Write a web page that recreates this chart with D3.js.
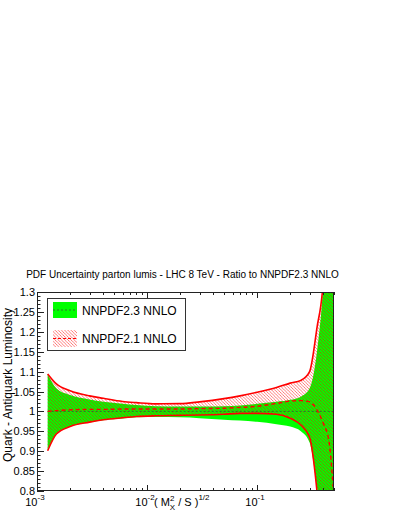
<!DOCTYPE html>
<html>
<head>
<meta charset="utf-8">
<script src="https://cdn.jsdelivr.net/npm/d3@7"></script>
<style>
  html, body { margin: 0; padding: 0; background: #fff; }
  svg { display: block; font-family: "Liberation Sans", Arial, Helvetica, sans-serif; }
</style>
</head>
<body>
<svg id="chart" width="401" height="518"></svg>
<script>
// ---------------- data ----------------
const xValues      = [0.00125, 0.0015, 0.002, 0.003, 0.004, 0.006, 0.008, 0.012, 0.02, 0.03, 0.05, 0.07, 0.1, 0.15, 0.2, 0.25, 0.3, 0.35, 0.4, 0.45, 0.5];
const nnpdf23Up    = [1.094, 1.058, 1.041, 1.030, 1.024, 1.019, 1.016, 1.013, 1.012, 1.012, 1.013, 1.015, 1.019, 1.024, 1.029, 1.037, 1.058, 1.150, 1.320, 1.600, 2.000];
const nnpdf23Down  = [0.903, 0.943, 0.962, 0.972, 0.978, 0.982, 0.985, 0.986, 0.985, 0.983, 0.979, 0.977, 0.974, 0.968, 0.962, 0.950, 0.922, 0.810, 0.680, 0.500, 0.300];
const nnpdf23Cent  = [1.000, 1.000, 1.000, 1.000, 1.000, 1.000, 1.000, 1.000, 1.000, 1.000, 1.000, 1.000, 1.000, 1.000, 1.000, 1.000, 1.000, 1.000, 1.000, 1.000, 1.000];
const nnpdf21Up    = [1.094, 1.069, 1.052, 1.039, 1.033, 1.025, 1.022, 1.019, 1.0195, 1.024, 1.032, 1.039, 1.048, 1.060, 1.071, 1.078, 1.100, 1.210, 1.330, 1.700, 2.100];
const nnpdf21Down  = [0.901, 0.943, 0.962, 0.973, 0.979, 0.984, 0.987, 0.989, 0.990, 0.991, 0.993, 0.995, 0.995, 0.993, 0.983, 0.966, 0.935, 0.800, 0.600, 0.400, 0.200];
const nnpdf21Cent  = [1.000, 1.002, 1.004, 1.005, 1.005, 1.006, 1.006, 1.006, 1.006, 1.007, 1.008, 1.010, 1.013, 1.020, 1.026, 1.027, 1.024, 1.004, 0.970, 0.925, 0.780];

const yMajorTicks  = [0.8, 0.85, 0.9, 0.95, 1, 1.05, 1.1, 1.15, 1.2, 1.25, 1.3];
const yTickLabels  = ["0.8", "0.85", "0.9", "0.95", "1", "1.05", "1.1", "1.15", "1.2", "1.25", "1.3"];
const xMajorTicks  = [0.001, 0.01, 0.1];
const xTickExps    = ["-3", "-2", "-1"];
const legendLabels = ["NNPDF2.3 NNLO", "NNPDF2.1 NNLO"];
const titleText    = "PDF Uncertainty parton lumis - LHC 8 TeV - Ratio to NNPDF2.3 NNLO";
const yTitleText   = "Quark - Antiquark Luminosity";

// ---------------- layout ----------------
const L = 37, R = 334, T = 292, B = 491;
const svg = d3.select("#chart");
const x = d3.scaleLog().domain([1e-3, 0.5]).range([L, R]);
const y = d3.scaleLinear().domain([0.8, 1.3]).range([B, T]);

const defs = svg.append("defs");
defs.append("clipPath").attr("id", "clip")
  .append("rect").attr("x", L).attr("y", T).attr("width", R - L).attr("height", B - T);
const pat = defs.append("pattern").attr("id", "hatch")
  .attr("patternUnits", "userSpaceOnUse").attr("width", 3.2).attr("height", 3.2);
pat.append("path").attr("d", "M-1,-1 L4.2,4.2 M-1,2.2 L1,4.2 M2.2,-1 L4.2,1")
  .attr("stroke", "#ff0000").attr("stroke-width", 0.75).attr("stroke-opacity", 0.7);

const rows = xValues.map((xv, i) => ({
  x: xv, u23: nnpdf23Up[i], d23: nnpdf23Down[i], c23: nnpdf23Cent[i],
  u21: nnpdf21Up[i], d21: nnpdf21Down[i], c21: nnpdf21Cent[i]
}));

const curve = d3.curveMonotoneX;
const plot = svg.append("g").attr("clip-path", "url(#clip)");

// green band
plot.append("path").datum(rows)
  .attr("d", d3.area().curve(curve).x(d => x(d.x)).y0(d => y(d.d23)).y1(d => y(d.u23)))
  .attr("fill", "#00ff00");
// red hatched band
plot.append("path").datum(rows)
  .attr("d", d3.area().curve(curve).x(d => x(d.x)).y0(d => y(d.d21)).y1(d => y(d.u21)))
  .attr("fill", "url(#hatch)");
// green central
plot.append("path").datum(rows)
  .attr("d", d3.line().curve(curve).x(d => x(d.x)).y(d => y(d.c23)))
  .attr("fill", "none").attr("stroke", "#2f6f2f").attr("stroke-width", 1).attr("stroke-dasharray", "2,2");
// red band edges
["u21", "d21"].forEach(k => {
  plot.append("path").datum(rows)
    .attr("d", d3.line().curve(curve).x(d => x(d.x)).y(d => y(d[k])))
    .attr("fill", "none").attr("stroke", "#ff0000").attr("stroke-width", 1.6);
});
// red central dashed
plot.append("path").datum(rows)
  .attr("d", d3.line().curve(curve).x(d => x(d.x)).y(d => y(d.c21)))
  .attr("fill", "none").attr("stroke", "#ff0000").attr("stroke-width", 1.4).attr("stroke-dasharray", "4,3");

// ---------------- frame & ticks ----------------
const axisColor = "#222";
svg.append("rect").attr("x", L + 0.5).attr("y", T + 0.5).attr("width", R - L - 1).attr("height", B - T - 1)
  .attr("fill", "none").attr("stroke", axisColor).attr("stroke-width", 1);

const ticks = svg.append("g").attr("stroke", axisColor).attr("stroke-width", 1);
// y ticks
d3.range(80, 131).forEach(v => {
  const val = v / 100;
  const major = v % 5 === 0;
  const yy = Math.round(y(val)) + 0.5;
  ticks.append("line").attr("x1", L).attr("x2", L + (major ? 7 : 3.5)).attr("y1", yy).attr("y2", yy);
});
// x ticks (log)
const xt = [];
[0.001, 0.01, 0.1].forEach(dec => { for (let k = 1; k <= 9; k++) { const v = dec * k; if (v <= 0.5) xt.push({ v, major: k === 1 }); } });
xt.forEach(t => {
  const xx = Math.round(x(t.v)) + 0.5;
  const len = t.major ? 6 : 3;
  ticks.append("line").attr("x1", xx).attr("x2", xx).attr("y1", B).attr("y2", B - len);
  ticks.append("line").attr("x1", xx).attr("x2", xx).attr("y1", T).attr("y2", T + len);
});

// y labels
svg.append("g").selectAll("text").data(yMajorTicks).join("text")
  .attr("x", 35).attr("y", d => y(d) + 4)
  .attr("text-anchor", "end").attr("font-size", 11).attr("fill", "#000")
  .text((d, i) => yTickLabels[i]);

// x labels 10^n
xMajorTicks.forEach((v, i) => {
  const t = svg.append("text").attr("y", 506).attr("font-size", 11).attr("fill", "#000")
    .attr("text-anchor", "end").attr("x", x(v) + 0.5);
  t.append("tspan").text("10");
  svg.append("text").attr("x", x(v) + 0.5).attr("y", 500).attr("font-size", 8).attr("fill", "#000")
    .text(xTickExps[i]);
});

// x title: ( M_X^2 / S )^{1/2}
const xt0 = 154;
const xtitle = svg.append("text").attr("x", xt0).attr("y", 506).attr("font-size", 11).attr("fill", "#000");
xtitle.append("tspan").text("( M");
xtitle.append("tspan").attr("font-size", 8).attr("dy", -5).text("2");
xtitle.append("tspan").attr("font-size", 8).attr("dx", -4.5).attr("dy", 9).text("X");
xtitle.append("tspan").attr("dy", -4).text(" / S )");
xtitle.append("tspan").attr("font-size", 8).attr("dy", -6).text("1/2");

// title
svg.append("text").attr("x", 182.5).attr("y", 278).attr("text-anchor", "middle")
  .attr("font-size", 10).attr("fill", "#000").text(titleText);

// y title
svg.append("text").attr("transform", "translate(11.5,385) rotate(-90)")
  .attr("text-anchor", "middle").attr("font-size", 12).attr("fill", "#000").text(yTitleText);

// ---------------- legend ----------------
const lg = svg.append("g");
lg.append("rect").attr("x", 47.5).attr("y", 298.5).attr("width", 138).attr("height", 52)
  .attr("fill", "#fff").attr("stroke", "#333").attr("stroke-width", 1);
// entry 1
lg.append("rect").attr("x", 53).attr("y", 302).attr("width", 24).attr("height", 16).attr("fill", "#00ff00");
lg.append("line").attr("x1", 53).attr("x2", 77).attr("y1", 310).attr("y2", 310)
  .attr("stroke", "#2f6f2f").attr("stroke-width", 1).attr("stroke-dasharray", "2,2");
lg.append("text").attr("x", 82).attr("y", 315).attr("font-size", 12).attr("fill", "#000").text(legendLabels[0]);
// entry 2
lg.append("rect").attr("x", 53).attr("y", 330).attr("width", 24).attr("height", 17).attr("fill", "url(#hatch)");
lg.append("line").attr("x1", 53).attr("x2", 77).attr("y1", 338.5).attr("y2", 338.5)
  .attr("stroke", "#ff0000").attr("stroke-width", 1.2).attr("stroke-dasharray", "3,2");
lg.append("text").attr("x", 82).attr("y", 343).attr("font-size", 12).attr("fill", "#000").text(legendLabels[1]);
</script>
</body>
</html>
